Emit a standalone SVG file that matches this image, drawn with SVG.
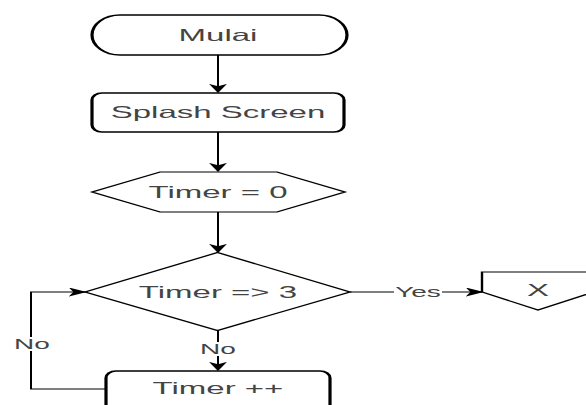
<svg xmlns="http://www.w3.org/2000/svg" width="586" height="405" viewBox="0 0 586 405">
<defs>
<style>
.node{fill:#fff;stroke:#000;}
.thick{stroke-width:1.6;}
.thin{stroke-width:1.2;}
.edge{fill:none;stroke:#000;stroke-width:1;}
.t{font-family:"Liberation Sans",Arial,sans-serif;font-size:16.5px;fill:#444;text-anchor:middle;}
.lbl{font-family:"Liberation Sans",Arial,sans-serif;font-size:14px;fill:#444;text-anchor:middle;}
.bg{fill:#fff;stroke:none;}
</style>
<marker id="arr" viewBox="0 0 10 10" refX="9" refY="5" markerWidth="9" markerHeight="9" markerUnits="userSpaceOnUse" orient="auto">
<path d="M0,0 L10,5 L0,10 L2.5,5 Z" fill="#000"/>
</marker>
</defs>
<rect width="586" height="405" fill="#fff"/>
<g transform="scale(2,1)">
<g id="connectors">
<path class="edge" d="M109,55 V92" marker-end="url(#arr)"/>
<path class="edge" d="M109,132 V171" marker-end="url(#arr)"/>
<path class="edge" d="M109,212 V252" marker-end="url(#arr)"/>
<path class="edge" d="M175,292 H241" marker-end="url(#arr)"/>
<path class="edge" d="M109,331 V370" marker-end="url(#arr)"/>
<path class="edge" d="M53,389 H15.5 V292 H42.5" marker-end="url(#arr)"/>
<rect class="bg" x="197" y="285" width="24" height="14"/>
<text class="lbl" x="209" y="297">Yes</text>
<rect class="bg" x="99" y="342" width="20" height="14"/>
<text class="lbl" x="109" y="354">No</text>
<rect class="bg" x="6" y="337" width="20" height="14"/>
<text class="lbl" x="16" y="349">No</text>
</g>
<g id="mulai">
<rect class="node thick" x="46" y="15" width="127.5" height="40" rx="14" ry="20"/>
<text class="t" x="109" y="41">Mulai</text>
</g>
<g id="splash">
<rect class="node thick" x="46" y="93" width="126" height="39" rx="5" ry="7"/>
<text class="t" x="109" y="118">Splash Screen</text>
</g>
<g id="timer0">
<polygon class="node thin" points="46,192 80,172 138.5,172 172.5,192 138.5,212 80,212"/>
<text class="t" x="109" y="198">Timer = 0</text>
</g>
<g id="cond">
<polygon class="node thin" points="42.5,292 108.75,252.5 175,292 108.75,330.5"/>
<text class="t" x="109" y="298">Timer =&gt; 3</text>
</g>
<g id="x">
<polygon class="node thin" points="241,272 297,272 297,292 269,310 241,292"/>
<text class="t" x="269" y="296">X</text>
</g>
<g id="timerinc">
<rect class="node thick" x="53" y="371" width="112" height="60" rx="5" ry="7"/>
<text class="t" x="109" y="394">Timer ++</text>
</g>
</g>
</svg>
